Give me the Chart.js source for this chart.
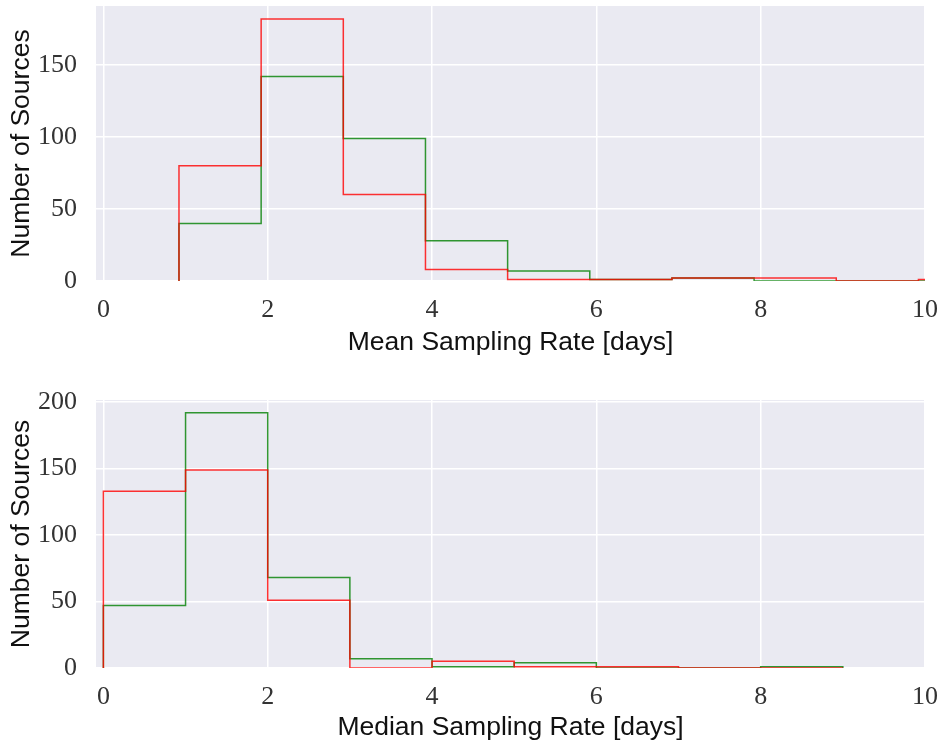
<!DOCTYPE html>
<html>
<head>
<meta charset="utf-8">
<script src="https://cdn.jsdelivr.net/npm/chart.js@4.4.1/dist/chart.umd.min.js"></script>
<style>
  html, body { margin: 0; padding: 0; background: #fff; }
  .box { position: relative; width: 941px; }
</style>
</head>
<body>
<div class="box" style="height:373px"><canvas id="meanChart"></canvas></div>
<div class="box" style="height:374px"><canvas id="medianChart"></canvas></div>
<script>
// Histogram data (bin edges and counts)
const meanEdges = [0.92, 1.92, 2.92, 3.92, 4.92, 5.92, 6.92, 7.92, 8.92, 9.92, 10.92];
const meanRed   = [80, 182, 60, 8, 1, 1, 2, 2, 0, 1];
const meanGreen = [40, 142, 99, 28, 7, 1, 2, 0, 0, 0];

const medianEdges = [0, 1, 2, 3, 4, 5, 6, 7, 8, 9];
const medianRed   = [133, 149, 51, 0, 5, 1, 1, 0, 0];
const medianGreen = [47, 192, 68, 7, 1, 4, 0, 0, 1];

const xTicks = [0, 2, 4, 6, 8, 10];
const meanYTicks = [0, 50, 100, 150];
const medianYTicks = [0, 50, 100, 150, 200];

// turn edges + counts into the outline of a step histogram
function stepPoints(edges, counts) {
  const pts = [{ x: edges[0], y: 0 }];
  counts.forEach((c, i) => pts.push({ x: edges[i], y: c }));
  pts.push({ x: edges[edges.length - 1], y: counts[counts.length - 1] });
  pts.push({ x: edges[edges.length - 1], y: 0 });
  return pts;
}

// grey panel behind the plot area
const panelBg = {
  id: "panelBg",
  beforeDraw(chart) {
    const a = chart.chartArea;
    const ctx = chart.ctx;
    ctx.save();
    ctx.fillStyle = "#EAEAF2";
    ctx.fillRect(a.left, a.top, a.right - a.left, a.bottom - a.top);
    ctx.restore();
  }
};

function makeChart(id, edges, red, green, yTicks, yMax, title, pad, xHeight) {
  const ctx = document.getElementById(id).getContext("2d");
  return new Chart(ctx, {
    type: "line",
    data: {
      datasets: [
        {
          data: stepPoints(edges, red),
          borderColor: "rgba(255, 0, 0, 0.8)",
          borderWidth: 1.5,
          pointRadius: 0,
          stepped: true,
          fill: false
        },
        {
          data: stepPoints(edges, green),
          borderColor: "rgba(0, 128, 0, 0.8)",
          borderWidth: 1.5,
          pointRadius: 0,
          stepped: true,
          fill: false
        }
      ]
    },
    options: {
      responsive: true,
      maintainAspectRatio: false,
      animation: false,
      layout: { padding: pad },
      plugins: {
        legend: { display: false },
        tooltip: { enabled: false }
      },
      scales: {
        x: {
          type: "linear",
          min: -0.09,
          max: 10,
          afterBuildTicks: s => { s.ticks = xTicks.map(v => ({ value: v })); },
          afterFit: s => { s.height = xHeight; s.paddingLeft = 0; s.paddingRight = 0; },
          grid: { color: "#ffffff", lineWidth: 1.5, drawTicks: false },
          border: { display: false },
          ticks: {
            color: "#333",
            padding: 14,
            maxRotation: 0,
            font: { family: "'Liberation Serif', 'DejaVu Serif', serif", size: 26 }
          },
          title: {
            display: true,
            text: title,
            color: "#111",
            padding: { top: 2, bottom: 3 },
            font: { family: "'Liberation Sans', Arial, sans-serif", size: 26.5 }
          }
        },
        y: {
          min: 0,
          max: yMax,
          afterBuildTicks: s => { s.ticks = yTicks.map(v => ({ value: v })); },
          afterFit: s => { s.width = 96; s.paddingTop = 0; s.paddingBottom = 0; },
          grid: { color: "#ffffff", lineWidth: 1.5, drawTicks: false },
          border: { display: false },
          ticks: {
            color: "#333",
            padding: 19,
            font: { family: "'Liberation Serif', 'DejaVu Serif', serif", size: 26 }
          },
          title: {
            display: true,
            text: "Number of Sources",
            color: "#111",
            padding: { top: 6, bottom: 0 },
            font: { family: "'Liberation Sans', Arial, sans-serif", size: 26.5 }
          }
        }
      }
    },
    plugins: [panelBg]
  });
}

makeChart("meanChart", meanEdges, meanRed, meanGreen, meanYTicks, 191,
  "Mean Sampling Rate [days]", { top: 6, right: 16, left: 0, bottom: 11 }, 81);
makeChart("medianChart", medianEdges, medianRed, medianGreen, medianYTicks, 201.6,
  "Median Sampling Rate [days]", { top: 27, right: 16, left: 0, bottom: 0 }, 79);
</script>
</body>
</html>
